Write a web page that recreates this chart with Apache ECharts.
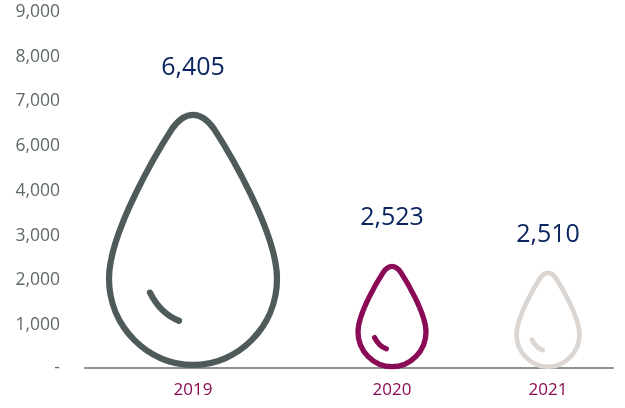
<!DOCTYPE html>
<html>
<head>
<meta charset="utf-8">
<style>html,body{margin:0;padding:0;background:#fff}#chart{width:625px;height:408px}</style>
<script src="https://cdn.jsdelivr.net/npm/echarts@6/dist/echarts.min.js"></script>
</head>
<body>
<div id="chart"></div>
<script>
// Water volume by year, one outlined drop per year
const years = ['2019', '2020', '2021'];
const volumes = [6405, 2523, 2510];
const yTickLabels = ['-', '1,000', '2,000', '3,000', '4,000', '6,000', '7,000', '8,000', '9,000'];
const yStep = 1125;
const baselineSlots = [108, 307, 463];

const dropColors = ['#4f5b5a', '#8a0a55', '#dbd6d1'];
const dropWidths = [168, 68, 63];
const dropStrokes = [10, 21, 20];
const dropDrawn = [8, 7, 6.5];
const heightScale = ['98.2%', '100%', '94%'];
const labelLift = [29, 25, 15];

// Outline plus the small highlight arc inside the bulb. The two leading moves
// pad the path's box to a square so its stroke is not stretched when resized.
const dropPath = 'path://M68.5 116M317.5 365' +
  'M193 116C201 116 207 120 214 130C227 150 277 232 277 279C277 327 238 365 193 365C148 365 109 327 109 279C109 232 159 150 172 130C179 120 185 116 193 116Z' +
  'M150 293C157 307 166 316 179 321';
const boxRatio = 249 / 168;

const chart = echarts.init(document.getElementById('chart'), null, { renderer: 'canvas' });
chart.setOption({
  animation: false,
  grid: { left: 85, right: 12, top: 10, bottom: 40, containLabel: false },
  xAxis: {
    type: 'value', min: 0, max: 528,
    splitLine: { show: false },
    axisTick: { show: false },
    axisLine: { show: true, onZero: true, lineStyle: { color: '#8f9392', width: 2 } },
    axisLabel: {
      customValues: baselineSlots,
      formatter: v => years[baselineSlots.indexOf(v)] || '',
      color: '#8a0a55', fontFamily: 'Open Sans', fontSize: 17, margin: 14
    }
  },
  yAxis: {
    type: 'value', min: 0, max: 9000, interval: yStep,
    splitLine: { show: false },
    axisTick: { show: false },
    axisLine: { show: false },
    axisLabel: {
      formatter: v => v === 0 ? '{dash|' + yTickLabels[0] + '}' : yTickLabels[Math.round(v / yStep)],
      color: '#5f6a68', fontFamily: 'Open Sans', fontSize: 17.5, margin: 25,
      padding: [4, 0, 0, 0],
      rich: { dash: { color: '#5f6a68', fontFamily: 'Open Sans', fontSize: 17.5, padding: [0, 0, 4, 0] } }
    }
  },
  series: [{
    type: 'pictorialBar',
    symbol: dropPath,
    symbolPosition: 'start',
    z: 3,
    data: years.map((y, i) => ({
      value: [baselineSlots[i], volumes[i]],
      symbolSize: [dropWidths[i] * boxRatio, heightScale[i]],
      symbolOffset: [0, 0.6 * dropStrokes[i] - dropDrawn[i] / 2],
      itemStyle: { color: 'none', borderColor: dropColors[i], borderWidth: dropStrokes[i], borderCap: 'round' },
      label: {
        show: true, position: 'top', distance: labelLift[i],
        formatter: () => volumes[i].toLocaleString('en-US'),
        color: '#0b2560', fontFamily: 'Open Sans', fontSize: 25
      }
    }))
  }]
});
</script>
</body>
</html>
